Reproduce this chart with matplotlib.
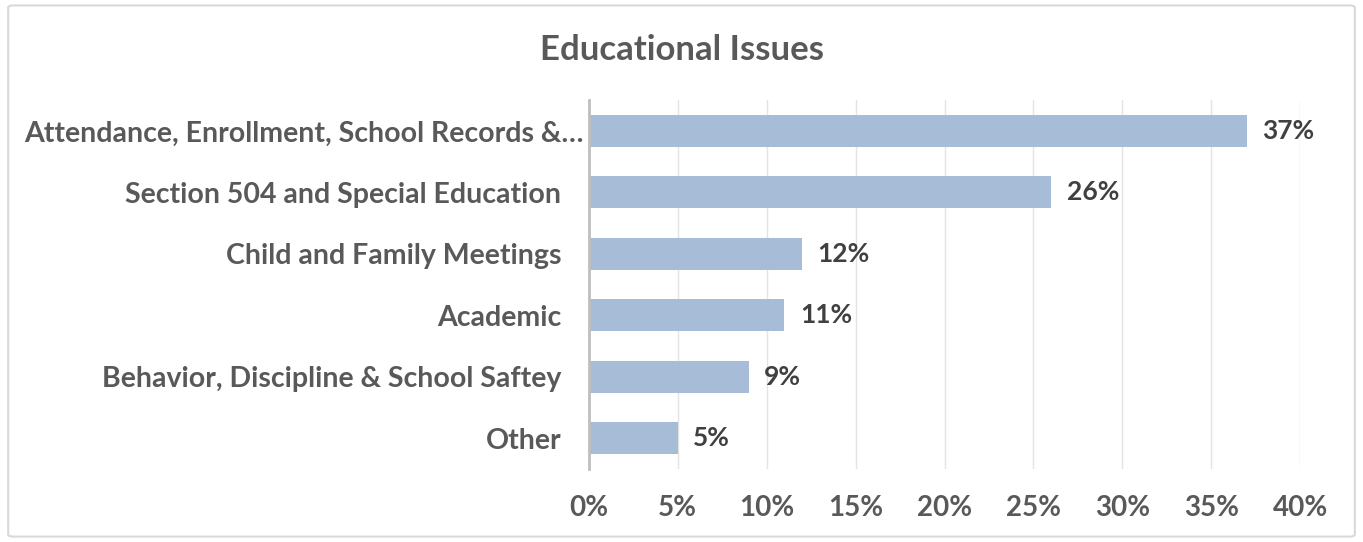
import matplotlib.pyplot as plt
import matplotlib.transforms as mtransforms
from matplotlib.patches import FancyBboxPatch
from matplotlib.ticker import PercentFormatter

categories = ['Attendance, Enrollment, School Records &…',
              'Section 504 and Special Education',
              'Child and Family Meetings',
              'Academic',
              'Behavior, Discipline & School Saftey',
              'Other']
shares = [37, 26, 12, 11, 9, 5]
ticks = [0, 5, 10, 15, 20, 25, 30, 35, 40]

text_color = '#595959'
bar_color = '#A7BCD6'

plt.rcParams['font.family'] = ['Lato', 'DejaVu Sans']
plt.rcParams['font.weight'] = 'bold'

fig = plt.figure(figsize=(13.63, 5.42), dpi=100)
ax = fig.add_axes([0.432, 0.135, 0.522, 0.680])

# light frame around the whole chart
fig.patches.append(FancyBboxPatch((0.006, 0.01), 0.988, 0.98,
                                  boxstyle='round,pad=0,rounding_size=0.004',
                                  transform=fig.transFigure, fill=False,
                                  edgecolor='#D9D9D9', linewidth=1.5))

y = list(range(len(categories)))
ax.barh(y, shares, height=0.52, color=bar_color, zorder=2)
ax.set_ylim(len(categories) - 0.5, -0.5)
ax.set_xlim(0, 40)

for yi, v in zip(y, shares):
    ax.annotate(f'{v}%', (v, yi), xytext=(11, 0), textcoords='offset points',
                ha='left', va='center', fontsize=19, fontweight='bold',
                color='#404040')

ax.set_yticks(y)
ax.set_yticklabels(categories, fontsize=20.5, color=text_color)
ax.set_xticks(ticks)
ax.xaxis.set_major_formatter(PercentFormatter(decimals=0))
ax.tick_params(axis='x', labelsize=20, colors=text_color, length=0, pad=19)
ax.tick_params(axis='y', length=0, pad=20)

# the truncated first label runs closer to the axis
shift = mtransforms.ScaledTranslation(16 / 72, 0, fig.dpi_scale_trans)
first = ax.get_yticklabels()[0]
first.set_transform(first.get_transform() + shift)

ax.grid(axis='x', color='#E3E3E3', linewidth=1, zorder=0)

for side in ['top', 'right', 'bottom']:
    ax.spines[side].set_visible(False)
ax.spines['left'].set_color('#BFBFBF')
ax.spines['left'].set_linewidth(2)
ax.spines['left'].set_zorder(3)

fig.text(0.5, 0.908, 'Educational Issues', ha='center', va='center',
         fontsize=25, fontweight='bold', color=text_color)

fig.savefig('out.png', dpi=100)
